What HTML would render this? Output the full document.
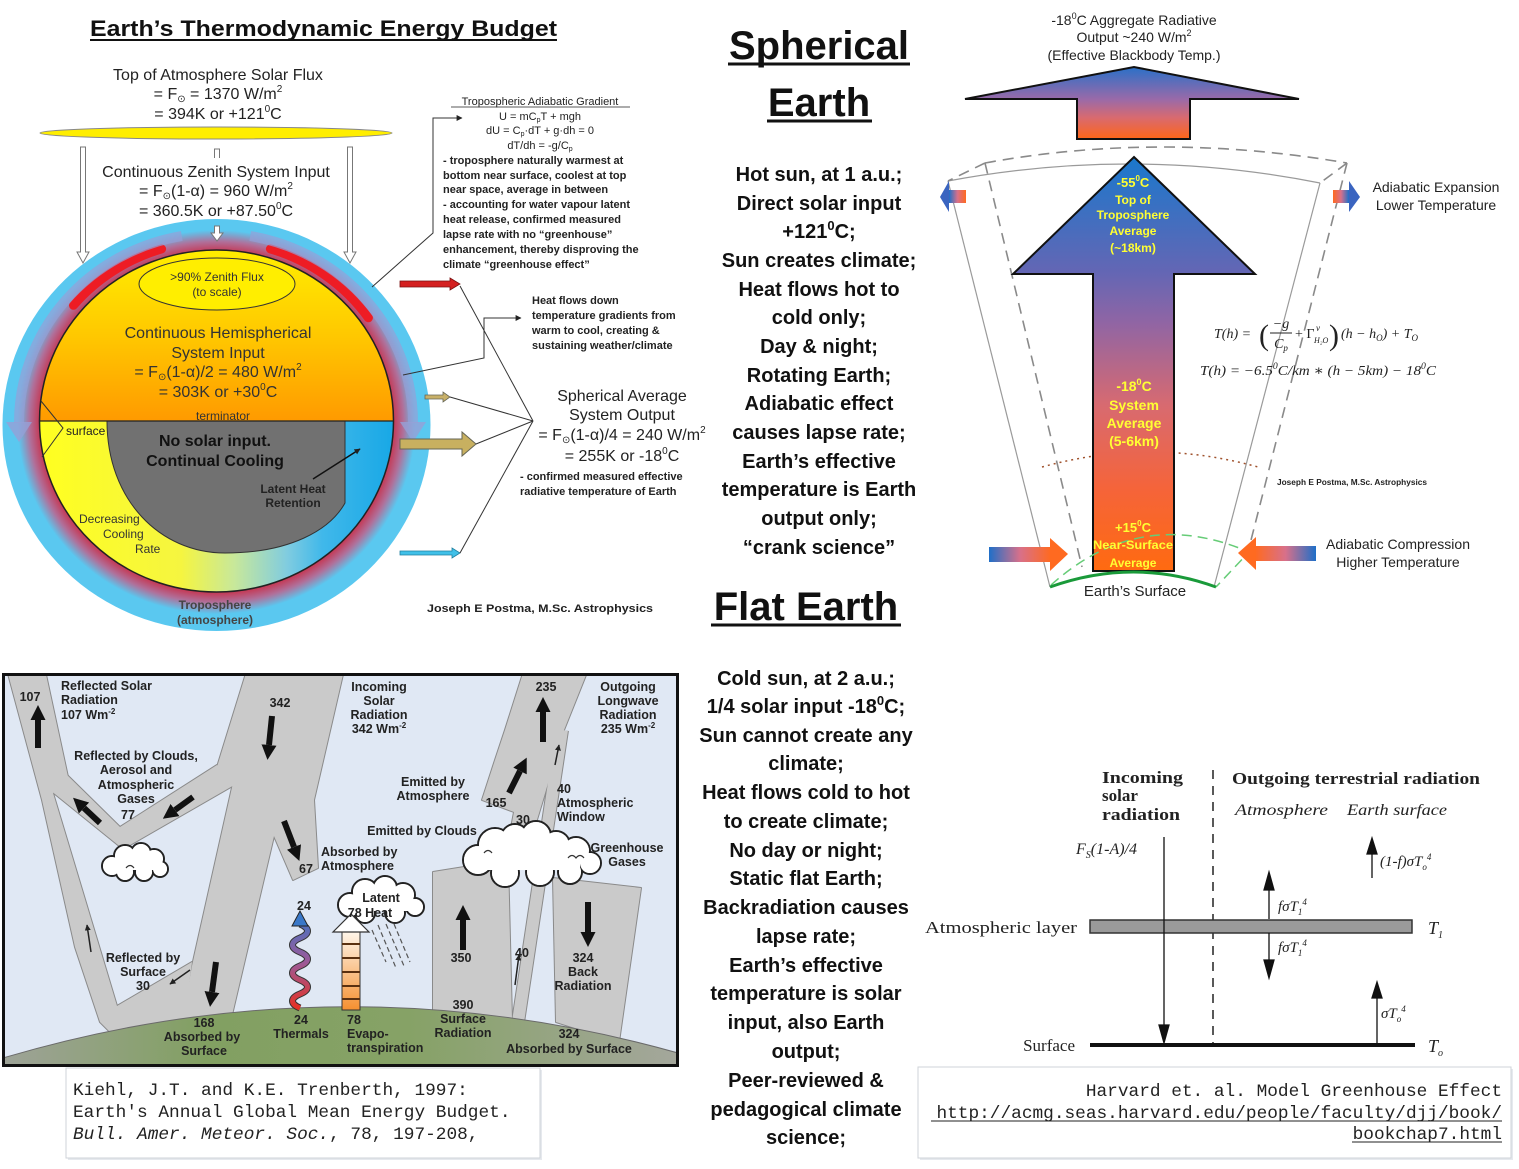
<!DOCTYPE html>
<html><head><meta charset="utf-8">
<style>
html,body{margin:0;padding:0;background:#fff;}
svg{display:block;}
text{font-family:"Liberation Sans",Arial,sans-serif;}
.serif{font-family:"Liberation Serif","DejaVu Serif",serif;}
.mono{font-family:"Liberation Mono","DejaVu Sans Mono",monospace;}
</style></head><body>
<svg width="1519" height="1169" viewBox="0 0 1519 1169" xmlns="http://www.w3.org/2000/svg">
<defs>
  <radialGradient id="ring" cx="0.5" cy="0.5" r="0.5">
    <stop offset="0" stop-color="#c8304a"/>
    <stop offset="0.88" stop-color="#c8304a"/>
    <stop offset="0.94" stop-color="#b0709a"/>
    <stop offset="1" stop-color="#5ac8f0"/>
  </radialGradient>
  <linearGradient id="dayg" x1="0" y1="250" x2="0" y2="421" gradientUnits="userSpaceOnUse">
    <stop offset="0" stop-color="#ffee00"/>
    <stop offset="0.5" stop-color="#ffc800"/>
    <stop offset="1" stop-color="#ff9a00"/>
  </linearGradient>
  <linearGradient id="nightg" x1="40" y1="0" x2="393" y2="0" gradientUnits="userSpaceOnUse">
    <stop offset="0" stop-color="#ffff20"/>
    <stop offset="0.4" stop-color="#f5f540"/>
    <stop offset="0.55" stop-color="#c8e89a"/>
    <stop offset="0.7" stop-color="#80cce0"/>
    <stop offset="0.8" stop-color="#40b8ea"/>
    <stop offset="1" stop-color="#18a8e6"/>
  </linearGradient>
  <linearGradient id="topArrow" x1="0" y1="67" x2="0" y2="139" gradientUnits="userSpaceOnUse">
    <stop offset="0" stop-color="#2a70c8"/>
    <stop offset="0.45" stop-color="#9a6aa8"/>
    <stop offset="0.7" stop-color="#d86a70"/>
    <stop offset="1" stop-color="#ff6618"/>
  </linearGradient>
  <linearGradient id="bigArrow" x1="0" y1="157" x2="0" y2="571" gradientUnits="userSpaceOnUse">
    <stop offset="0" stop-color="#1a78cc"/>
    <stop offset="0.28" stop-color="#6466b4"/>
    <stop offset="0.4" stop-color="#9065a4"/>
    <stop offset="0.6" stop-color="#d86a70"/>
    <stop offset="0.8" stop-color="#f5643a"/>
    <stop offset="1" stop-color="#ff6a10"/>
  </linearGradient>
  <linearGradient id="bo" x1="0" y1="0" x2="1" y2="0">
    <stop offset="0" stop-color="#1f6fc8"/>
    <stop offset="0.5" stop-color="#d8708a"/>
    <stop offset="1" stop-color="#ff6a20"/>
  </linearGradient>
  <linearGradient id="ob" x1="0" y1="0" x2="1" y2="0">
    <stop offset="0" stop-color="#ff6a20"/>
    <stop offset="0.5" stop-color="#d8708a"/>
    <stop offset="1" stop-color="#1f6fc8"/>
  </linearGradient>
  <linearGradient id="ground" x1="0" y1="0" x2="1" y2="0">
    <stop offset="0" stop-color="#9ea398"/>
    <stop offset="0.3" stop-color="#82a062"/>
    <stop offset="0.6" stop-color="#86a266"/>
    <stop offset="1" stop-color="#a4a79c"/>
  </linearGradient>
  <linearGradient id="wave" x1="0" y1="1010" x2="0" y2="912" gradientUnits="userSpaceOnUse">
    <stop offset="0" stop-color="#e83020"/>
    <stop offset="0.5" stop-color="#9a5a9a"/>
    <stop offset="1" stop-color="#3a78c8"/>
  </linearGradient>
  <linearGradient id="evap" x1="0" y1="930" x2="0" y2="1010" gradientUnits="userSpaceOnUse">
    <stop offset="0" stop-color="#fff8ee"/>
    <stop offset="1" stop-color="#f59030"/>
  </linearGradient>
  <marker id="ah" viewBox="0 0 10 10" refX="0" refY="5" markerWidth="2.5" markerHeight="2.6" orient="auto" markerUnits="strokeWidth">
    <path d="M0,0 L10,5 L0,10 z" fill="#111"/>
  </marker>
  <marker id="sm" viewBox="0 0 10 10" refX="9" refY="5" markerWidth="6" markerHeight="6" orient="auto" markerUnits="userSpaceOnUse">
    <path d="M0,0 L10,5 L0,10 z" fill="#222"/>
  </marker>
  <clipPath id="kc"><rect x="5" y="676" width="671" height="388"/></clipPath>
</defs>

<!-- ================= TOP LEFT: Thermodynamic budget ================= -->
<text x="90" y="36" font-size="22" font-weight="bold" fill="#111" textLength="467" lengthAdjust="spacingAndGlyphs">Earth’s Thermodynamic Energy Budget</text>
<line x1="90" y1="40" x2="557" y2="40" stroke="#111" stroke-width="2"/>

<g font-size="16" fill="#222" text-anchor="middle">
  <text x="218" y="80">Top of Atmosphere Solar Flux</text>
  <text x="218" y="99">= F<tspan font-size="10" dy="3">⊙</tspan><tspan dy="-3"> = 1370 W/m</tspan><tspan font-size="10" dy="-7">2</tspan></text>
  <text x="218" y="119">= 394K or +121<tspan font-size="10" dy="-7">0</tspan><tspan dy="7">C</tspan></text>
</g>
<ellipse cx="216" cy="133" rx="176" ry="6" fill="#ffee00" stroke="#888" stroke-width="1"/>

<!-- globe -->
<ellipse cx="216.5" cy="425" rx="214" ry="206" fill="#5ac8f0"/>
<ellipse cx="216.5" cy="422" rx="199" ry="192" fill="url(#ring)"/>
<path d="M161.6,248.9 A186,180 0 0 0 73.5,305.3" fill="none" stroke="#ee1c24" stroke-width="9" stroke-linecap="round"/>
<path d="M270.4,248.9 A186,180 0 0 1 368.4,317.8" fill="none" stroke="#ee1c24" stroke-width="9" stroke-linecap="round"/>
<path d="M181.8,236 A197,190 0 0 0 19,423" fill="none" stroke="rgba(150,160,215,0.7)" stroke-width="10"/>
<path d="M250.2,236 A197,190 0 0 1 413,423" fill="none" stroke="rgba(150,160,215,0.7)" stroke-width="10"/>
<polygon points="6,422 32,422 19,442" fill="rgba(150,160,215,0.8)"/>
<polygon points="400,422 426,422 413,442" fill="rgba(150,160,215,0.8)"/>

<path d="M39.5,421 A177,171 0 0 1 393.5,421 Z" fill="url(#dayg)"/>
<path d="M39.5,421 A177,171 0 0 0 393.5,421 Z" fill="url(#nightg)"/>
<path d="M107,421 C107,500 160,553 225,553 C290,553 330,530 345,503 L345,421 Z" fill="#717171" stroke="#333" stroke-width="1"/>
<ellipse cx="216.5" cy="421" rx="177" ry="171" fill="none" stroke="#222" stroke-width="1.5"/>
<line x1="40" y1="421" x2="393" y2="421" stroke="#222" stroke-width="1.2"/>
<polyline points="41,401 63,428 42,457" fill="none" stroke="#333" stroke-width="1"/>

<!-- hollow arrows (drawn over globe) -->
<path d="M80.5,147 L85.5,147 L85.5,252 L89,252 L83,263 L77,252 L80.5,252 Z" fill="#fff" stroke="#777"/>
<path d="M347.5,147 L352.5,147 L352.5,252 L356,252 L350,263 L344,252 L347.5,252 Z" fill="#fff" stroke="#777"/>
<path d="M214.5,158 L214.5,149 L219.5,149 L219.5,158" fill="none" stroke="#777"/>
<path d="M214.5,226 L219.5,226 L219.5,233 L223,233 L217,241 L211,233 L214.5,233 Z" fill="#fff" stroke="#777"/>

<ellipse cx="217" cy="284" rx="78" ry="26" fill="#ffee00" stroke="#333" stroke-width="1"/>
<g font-size="12" fill="#333" text-anchor="middle">
  <text x="217" y="281">&gt;90% Zenith Flux</text>
  <text x="217" y="296">(to scale)</text>
</g>
<g font-size="16" fill="#222" text-anchor="middle">
  <text x="216" y="177">Continuous Zenith System Input</text>
  <text x="216" y="196">= F<tspan font-size="10" dy="3">⊙</tspan><tspan dy="-3">(1-α) = 960 W/m</tspan><tspan font-size="10" dy="-7">2</tspan></text>
  <text x="216" y="216">= 360.5K or +87.50<tspan font-size="10" dy="-7">0</tspan><tspan dy="7">C</tspan></text>
</g>
<g font-size="16" fill="#333" text-anchor="middle">
  <text x="218" y="338">Continuous Hemispherical</text>
  <text x="218" y="358">System Input</text>
  <text x="218" y="377">= F<tspan font-size="10" dy="3">⊙</tspan><tspan dy="-3">(1-α)/2 = 480 W/m</tspan><tspan font-size="10" dy="-7">2</tspan></text>
  <text x="218" y="397">= 303K or +30<tspan font-size="10" dy="-7">0</tspan><tspan dy="7">C</tspan></text>
</g>
<text x="223" y="420" font-size="12" fill="#333" text-anchor="middle">terminator</text>
<text x="66" y="435" font-size="12" fill="#222">surface</text>
<g font-size="16" font-weight="bold" fill="#111" text-anchor="middle">
  <text x="215" y="446">No solar input.</text>
  <text x="215" y="466">Continual Cooling</text>
</g>
<g font-size="12" font-weight="bold" fill="#222" text-anchor="middle">
  <text x="293" y="493">Latent Heat</text>
  <text x="293" y="507">Retention</text>
</g>
<line x1="313" y1="479" x2="360" y2="449" stroke="#111" stroke-width="1.5" marker-end="url(#sm)"/>
<g font-size="12" fill="#333">
  <text x="79" y="523">Decreasing</text>
  <text x="103" y="538">Cooling</text>
  <text x="135" y="553">Rate</text>
</g>
<g font-size="12" font-weight="bold" fill="#444" text-anchor="middle">
  <text x="215" y="609">Troposphere</text>
  <text x="215" y="624">(atmosphere)</text>
</g>

<!-- side arrows -->
<polygon points="400,281 450,281 450,278 460,284 450,290 450,287 400,287" fill="#d42020" stroke="#7a1010" stroke-width="0.8"/>
<polygon points="425,395 443,395 443,392 450,397 443,402 443,399 425,399" fill="#c8b068" stroke="#665" stroke-width="0.8"/>
<polygon points="400,439 462,439 462,432 476,444 462,456 462,449 400,449" fill="#c8b060" stroke="#665" stroke-width="1"/>
<polygon points="400,551 452,551 452,548 460,553 452,558 452,555 400,555" fill="#40c0e8" stroke="#2080a0" stroke-width="0.8"/>
<g stroke="#333" stroke-width="1" fill="none">
  <line x1="460" y1="286" x2="533" y2="421"/>
  <line x1="450" y1="397" x2="533" y2="421"/>
  <line x1="476" y1="444" x2="533" y2="421"/>
  <line x1="460" y1="553" x2="533" y2="421"/>
  <polyline points="372,287 433,233 433,118 462,118" marker-end="url(#sm)"/>
  <polyline points="403,375 484,358 484,318 521,318" marker-end="url(#sm)"/>
</g>

<text x="540" y="105" font-size="11" fill="#222" text-anchor="middle">Tropospheric Adiabatic Gradient</text>
<line x1="451" y1="107" x2="630" y2="107" stroke="#222" stroke-width="0.8"/>
<g font-size="11" fill="#222" text-anchor="middle">
  <text x="540" y="120">U = mC<tspan font-size="7" dy="2">p</tspan><tspan dy="-2">T + mgh</tspan></text>
  <text x="540" y="134">dU = C<tspan font-size="7" dy="2">p</tspan><tspan dy="-2">·dT + g·dh = 0</tspan></text>
  <text x="540" y="149">dT/dh = -g/C<tspan font-size="7" dy="2">p</tspan></text>
</g>
<g font-size="11" font-weight="bold" fill="#222">
  <text x="443" y="164">- troposphere naturally warmest at</text>
  <text x="443" y="179">bottom near surface, coolest at top</text>
  <text x="443" y="193">near space, average in between</text>
  <text x="443" y="208">- accounting for water vapour latent</text>
  <text x="443" y="223">heat release, confirmed measured</text>
  <text x="443" y="238">lapse rate with no “greenhouse”</text>
  <text x="443" y="253">enhancement, thereby disproving the</text>
  <text x="443" y="268">climate “greenhouse effect”</text>
  <text x="532" y="304">Heat flows down</text>
  <text x="532" y="319">temperature gradients from</text>
  <text x="532" y="334">warm to cool, creating &amp;</text>
  <text x="532" y="349">sustaining weather/climate</text>
  <text x="520" y="480">- confirmed measured effective</text>
  <text x="520" y="495">radiative temperature of Earth</text>
  <text x="427" y="612" textLength="226" lengthAdjust="spacingAndGlyphs">Joseph E Postma, M.Sc. Astrophysics</text>
</g>
<g font-size="16" fill="#222" text-anchor="middle">
  <text x="622" y="401">Spherical Average</text>
  <text x="622" y="420">System Output</text>
  <text x="622" y="440">= F<tspan font-size="10" dy="3">⊙</tspan><tspan dy="-3">(1-α)/4 = 240 W/m</tspan><tspan font-size="10" dy="-7">2</tspan></text>
  <text x="622" y="461">= 255K or -18<tspan font-size="10" dy="-7">0</tspan><tspan dy="7">C</tspan></text>
</g>

<!-- ================= MIDDLE COLUMN ================= -->
<g font-weight="bold" fill="#111" text-anchor="middle">
  <text x="819" y="59" font-size="40">Spherical</text>
  <text x="819" y="116" font-size="40">Earth</text>
  <text x="806" y="620" font-size="40">Flat Earth</text>
</g>
<line x1="728" y1="64" x2="910" y2="64" stroke="#111" stroke-width="3"/>
<line x1="767" y1="121" x2="872" y2="121" stroke="#111" stroke-width="3"/>
<line x1="711" y1="625" x2="901" y2="625" stroke="#111" stroke-width="3"/>

<g font-size="20" font-weight="bold" fill="#111" text-anchor="middle">
  <text x="819" y="181">Hot sun, at 1 a.u.;</text>
  <text x="819" y="210">Direct solar input</text>
  <text x="819" y="238">+121<tspan font-size="13" dy="-8">0</tspan><tspan dy="8">C;</tspan></text>
  <text x="819" y="267">Sun creates climate;</text>
  <text x="819" y="296">Heat flows hot to</text>
  <text x="819" y="324">cold only;</text>
  <text x="819" y="353">Day &amp; night;</text>
  <text x="819" y="382">Rotating Earth;</text>
  <text x="819" y="410">Adiabatic effect</text>
  <text x="819" y="439">causes lapse rate;</text>
  <text x="819" y="468">Earth’s effective</text>
  <text x="819" y="496">temperature is Earth</text>
  <text x="819" y="525">output only;</text>
  <text x="819" y="554">“crank science”</text>

  <text x="806" y="685">Cold sun, at 2 a.u.;</text>
  <text x="806" y="713">1/4 solar input -18<tspan font-size="13" dy="-8">0</tspan><tspan dy="8">C;</tspan></text>
  <text x="806" y="742">Sun cannot create any</text>
  <text x="806" y="770">climate;</text>
  <text x="806" y="799">Heat flows cold to hot</text>
  <text x="806" y="828">to create climate;</text>
  <text x="806" y="857">No day or night;</text>
  <text x="806" y="885">Static flat Earth;</text>
  <text x="806" y="914">Backradiation causes</text>
  <text x="806" y="943">lapse rate;</text>
  <text x="806" y="972">Earth’s effective</text>
  <text x="806" y="1000">temperature is solar</text>
  <text x="806" y="1029">input, also Earth</text>
  <text x="806" y="1058">output;</text>
  <text x="806" y="1087">Peer-reviewed &amp;</text>
  <text x="806" y="1116">pedagogical climate</text>
  <text x="806" y="1144">science;</text>
</g>

<!-- ================= TOP RIGHT: spherical column ================= -->
<g font-size="14" fill="#222" text-anchor="middle">
  <text x="1134" y="25">-18<tspan font-size="9" dy="-6">0</tspan><tspan dy="6">C Aggregate Radiative</tspan></text>
  <text x="1134" y="42">Output ~240 W/m<tspan font-size="9" dy="-6">2</tspan></text>
  <text x="1134" y="60">(Effective Blackbody Temp.)</text>
</g>
<polygon points="965,99 1134,67 1299,99 1190,99 1190,139 1077,139 1077,99" fill="url(#topArrow)" stroke="#111" stroke-width="2" stroke-linejoin="miter"/>

<g fill="none" stroke="#9a9a9a" stroke-width="1.2">
  <path d="M948,181 Q1134,146 1320,183"/>
  <line x1="948" y1="181" x2="1050" y2="587"/>
  <line x1="1320" y1="183" x2="1214" y2="587"/>
</g>
<g fill="none" stroke="#8a8a8a" stroke-width="1.6" stroke-dasharray="11 7">
  <path d="M985,163 Q1160,131 1347,163"/>
  <line x1="985" y1="163" x2="1082" y2="567"/>
  <line x1="1347" y1="163" x2="1249" y2="548"/>
  <line x1="985" y1="163" x2="948" y2="181"/>
  <line x1="1347" y1="163" x2="1320" y2="183"/>
</g>
<path d="M1042,467 Q1150,437 1258,467" fill="none" stroke="#a0522d" stroke-width="1.5" stroke-dasharray="2 4"/>

<polygon points="1134,157 1255,274 1174,274 1174,571 1093,571 1093,274 1013,274" fill="url(#bigArrow)" stroke="#111" stroke-width="2"/>
<path d="M1051,585 Q1140,505 1249,552 L1216,587" fill="none" stroke="#66cc77" stroke-width="1.5" stroke-dasharray="10 6"/>
<path d="M1050,587 Q1134,557 1216,587" fill="none" stroke="#1a9a3a" stroke-width="3"/>

<g font-weight="bold" fill="#ffff33" text-anchor="middle">
  <text x="1133" y="187" font-size="13">-55<tspan font-size="8" dy="-6">0</tspan><tspan dy="6">C</tspan></text>
  <text x="1133" y="204" font-size="12">Top of</text>
  <text x="1133" y="219" font-size="12">Troposphere</text>
  <text x="1133" y="235" font-size="12">Average</text>
  <text x="1133" y="252" font-size="12">(~18km)</text>
  <text x="1134" y="391" font-size="14">-18<tspan font-size="9" dy="-6">0</tspan><tspan dy="6">C</tspan></text>
  <text x="1134" y="410" font-size="14">System</text>
  <text x="1134" y="428" font-size="14">Average</text>
  <text x="1134" y="446" font-size="14">(5-6km)</text>
  <text x="1133" y="532" font-size="13">+15<tspan font-size="8" dy="-6">0</tspan><tspan dy="6">C</tspan></text>
  <text x="1133" y="549" font-size="12" textLength="80" lengthAdjust="spacingAndGlyphs">Near-Surface</text>
  <text x="1133" y="567" font-size="12">Average</text>
</g>

<!-- small side arrows -->
<rect x="949" y="190" width="17" height="13" fill="url(#ob)" transform="rotate(180 957.5 196.5)"/>
<polygon points="949,181 949,212 940,197" fill="#3a64c0"/>
<rect x="1333" y="190" width="16" height="13" fill="url(#ob)"/>
<polygon points="1349,181 1349,212 1360,197" fill="#3a64c0"/>

<!-- big horizontal arrows -->
<rect x="989" y="547" width="62" height="15" fill="url(#bo)"/>
<polygon points="1050,538 1068,554 1050,571" fill="#ff6a20"/>
<rect x="1255" y="546" width="61" height="15" fill="url(#ob)"/>
<polygon points="1256,537 1238,553 1256,570" fill="#ff6a20"/>

<g font-size="14" fill="#222" text-anchor="middle">
  <text x="1436" y="192">Adiabatic Expansion</text>
  <text x="1436" y="210">Lower Temperature</text>
  <text x="1398" y="549">Adiabatic Compression</text>
  <text x="1398" y="567">Higher Temperature</text>
</g>
<text x="1135" y="596" font-size="15" fill="#222" text-anchor="middle">Earth’s Surface</text>

<!-- formulas -->
<g class="serif" font-size="14" fill="#222" font-style="italic">
  <text x="1214" y="338" class="serif">T(h) =</text>
  <text x="1259" y="345" class="serif" font-size="30" font-style="normal">(</text>
  <text x="1281" y="328" class="serif" text-anchor="middle">−g</text>
  <text x="1281" y="348" class="serif" text-anchor="middle">C<tspan font-size="9" dy="3">p</tspan></text>
  <text x="1295" y="338" class="serif" font-style="normal">+ Γ</text>
  <text x="1316" y="331" class="serif" font-size="9">v</text>
  <text x="1314" y="343" class="serif" font-size="8">H₂O</text>
  <text x="1329" y="345" class="serif" font-size="30" font-style="normal">)</text>
  <text x="1341" y="338" class="serif">(h − h<tspan font-size="9" dy="3">O</tspan><tspan dy="-3">) + T</tspan><tspan font-size="9" dy="3">O</tspan></text>
  <text x="1200" y="375" class="serif" textLength="236" lengthAdjust="spacingAndGlyphs">T(h) = −6.5<tspan font-size="9" dy="-6">0</tspan><tspan dy="6">C/km ∗ (h − 5km) − 18</tspan><tspan font-size="9" dy="-6">0</tspan><tspan dy="6">C</tspan></text>
</g>
<line x1="1270" y1="333" x2="1292" y2="333" stroke="#222" stroke-width="1"/>
<text x="1277" y="485" font-size="8" font-weight="bold" fill="#222" textLength="150" lengthAdjust="spacingAndGlyphs">Joseph E Postma, M.Sc. Astrophysics</text>

<!-- ================= BOTTOM LEFT: Kiehl & Trenberth ================= -->
<rect x="3.5" y="674.5" width="674" height="391" fill="#e0e8f4"/>
<g clip-path="url(#kc)">
<!-- band outlines -->
<g fill="#8a8a8a" stroke="#8a8a8a" stroke-width="2" stroke-linejoin="round">
  <polygon points="7,670 45,670 68,777 53,793 117,1006 192,962 184,1022 110,1032 100,1022 75,947 42,800"/>
  <polygon points="62,770 120,827 217,765 236,784 123,849 50,790"/>
  <polygon points="247,670 344,670 314,800 318,868 293,880 274,836 232,1015 182,1020 192,966 233,783 217,767"/>
  <polygon points="524,670 588,670 562,735 546,790 533,833 510,833 514,812 482,800 495,760 505,730"/>
  <polygon points="433,872 508,860 512,1020 433,1020"/>
  <polygon points="553,878 641,888 619,1042 556,1022"/>
</g>
<polyline points="562,730 518,1022" fill="none" stroke="#8a8a8a" stroke-width="14"/>
<!-- band fills -->
<g fill="#cacaca">
  <polygon points="7,670 45,670 68,777 53,793 117,1006 192,962 184,1022 110,1032 100,1022 75,947 42,800"/>
  <polygon points="62,770 120,827 217,765 236,784 123,849 50,790"/>
  <polygon points="247,670 344,670 314,800 318,868 293,880 274,836 232,1015 182,1020 192,966 233,783 217,767"/>
  <polygon points="524,670 588,670 562,735 546,790 533,833 510,833 514,812 482,800 495,760 505,730"/>
  <polygon points="433,872 508,860 512,1020 433,1020"/>
  <polygon points="553,878 641,888 619,1042 556,1022"/>
</g>
<polyline points="562,730 518,1022" fill="none" stroke="#cacaca" stroke-width="12"/>

<!-- clouds -->
<g fill="#fff" stroke="#222" stroke-width="2">
  <circle cx="112" cy="866" r="10"/><circle cx="125" cy="856" r="11"/><circle cx="141" cy="853" r="10"/>
  <circle cx="154" cy="859" r="10"/><circle cx="160" cy="869" r="8"/><circle cx="144" cy="872" r="9"/><circle cx="125" cy="872" r="9"/>
  <circle cx="478" cy="860" r="15"/><circle cx="495" cy="845" r="17"/><circle cx="515" cy="838" r="14"/>
  <circle cx="536" cy="836" r="15"/><circle cx="556" cy="845" r="14"/><circle cx="576" cy="851" r="14"/>
  <circle cx="590" cy="863" r="11"/><circle cx="570" cy="872" r="12"/><circle cx="540" cy="872" r="14"/><circle cx="505" cy="873" r="14"/>
  <circle cx="350" cy="905" r="12"/><circle cx="365" cy="892" r="13"/><circle cx="385" cy="888" r="12"/>
  <circle cx="403" cy="895" r="12"/><circle cx="415" cy="907" r="9"/><circle cx="395" cy="913" r="10"/><circle cx="365" cy="913" r="10"/>
</g>
<g fill="#fff">
  <circle cx="112" cy="866" r="9"/><circle cx="125" cy="856" r="10"/><circle cx="141" cy="853" r="9"/>
  <circle cx="154" cy="859" r="9"/><circle cx="160" cy="869" r="7"/><circle cx="144" cy="872" r="8"/><circle cx="125" cy="872" r="8"/>
  <circle cx="478" cy="860" r="14"/><circle cx="495" cy="845" r="16"/><circle cx="515" cy="838" r="13"/>
  <circle cx="536" cy="836" r="14"/><circle cx="556" cy="845" r="13"/><circle cx="576" cy="851" r="13"/>
  <circle cx="590" cy="863" r="10"/><circle cx="570" cy="872" r="11"/><circle cx="540" cy="872" r="13"/><circle cx="505" cy="873" r="13"/>
  <circle cx="350" cy="905" r="11"/><circle cx="365" cy="892" r="12"/><circle cx="385" cy="888" r="11"/>
  <circle cx="403" cy="895" r="11"/><circle cx="415" cy="907" r="8"/><circle cx="395" cy="913" r="9"/><circle cx="365" cy="913" r="9"/>
  <rect x="120" y="856" width="36" height="14"/><rect x="485" y="845" width="95" height="25"/><rect x="355" y="893" width="55" height="18"/>
</g>
<g fill="none" stroke="#333" stroke-width="1.2">
  <path d="M126,868 q4,-5 8,0"/><path d="M484,853 q4,-5 8,0"/><path d="M568,858 q4,-5 8,0 q4,-5 8,0"/>
</g>

<!-- ground -->
<path d="M3,1066 L3,1058 Q340,958 678,1053 L678,1066 Z" fill="url(#ground)" stroke="#6a6a6a" stroke-width="1"/>

<!-- thermals wave -->
<path d="M300,1008 c-10,-4 -10,-10 0,-14 c10,-4 10,-10 0,-14 c-10,-4 -10,-10 0,-14 c10,-4 10,-10 0,-14 c-10,-4 -10,-10 0,-14 c10,-4 10,-10 0,-14" fill="none" stroke="#333" stroke-width="7"/>
<path d="M300,1008 c-10,-4 -10,-10 0,-14 c10,-4 10,-10 0,-14 c-10,-4 -10,-10 0,-14 c10,-4 10,-10 0,-14 c-10,-4 -10,-10 0,-14 c10,-4 10,-10 0,-14" fill="none" stroke="url(#wave)" stroke-width="5"/>
<polygon points="292,926 308,926 300,911" fill="#3a78c8" stroke="#222" stroke-width="1"/>

<!-- evapotranspiration column -->
<rect x="342" y="930" width="18" height="80" fill="url(#evap)" stroke="#333" stroke-width="1"/>
<g stroke="#5a3010" stroke-width="2">
  <line x1="342" y1="944" x2="360" y2="944"/><line x1="342" y1="958" x2="360" y2="958"/>
  <line x1="342" y1="972" x2="360" y2="972"/><line x1="342" y1="986" x2="360" y2="986"/><line x1="342" y1="999" x2="360" y2="999"/>
</g>
<polygon points="333,932 369,932 351,914" fill="#fff" stroke="#333" stroke-width="1.2"/>
<g stroke="#555" stroke-width="1.2" stroke-dasharray="5 3">
  <line x1="378" y1="925" x2="396" y2="968"/><line x1="386" y1="924" x2="404" y2="966"/>
  <line x1="394" y1="924" x2="410" y2="962"/><line x1="372" y1="930" x2="386" y2="962"/>
</g>

<!-- black arrows -->
<g stroke="#111" stroke-width="6" marker-end="url(#ah)">
  <line x1="38" y1="748" x2="38" y2="720"/>
  <line x1="272" y1="716" x2="269" y2="745"/>
  <line x1="100" y1="823" x2="84" y2="808"/>
  <line x1="193" y1="797" x2="175" y2="810"/>
  <line x1="284" y1="821" x2="294" y2="847"/>
  <line x1="216" y1="962" x2="212" y2="992"/>
  <line x1="543" y1="742" x2="543" y2="712"/>
  <line x1="509" y1="793" x2="520" y2="771"/>
  <line x1="463" y1="950" x2="463" y2="920"/>
  <line x1="588" y1="902" x2="588" y2="932"/>
</g>
<g stroke="#222" stroke-width="1.5" fill="none">
  <line x1="91" y1="952" x2="87" y2="925" marker-end="url(#sm)"/>
  <line x1="190" y1="970" x2="170" y2="984" marker-end="url(#sm)"/>
  <line x1="515" y1="985" x2="519" y2="955" marker-end="url(#sm)"/>
  <line x1="555" y1="765" x2="559" y2="745" marker-end="url(#sm)"/>
</g>
</g>

<g font-size="12.5" font-weight="bold" fill="#222">
  <text x="30" y="701" text-anchor="middle">107</text>
  <text x="61" y="690">Reflected Solar</text>
  <text x="61" y="704">Radiation</text>
  <text x="61" y="719">107 Wm<tspan font-size="8" dy="-5">-2</tspan></text>
  <text x="280" y="707" text-anchor="middle">342</text>
  <text x="379" y="691" text-anchor="middle">Incoming</text>
  <text x="379" y="705" text-anchor="middle">Solar</text>
  <text x="379" y="719" text-anchor="middle">Radiation</text>
  <text x="379" y="733" text-anchor="middle">342 Wm<tspan font-size="8" dy="-5">-2</tspan></text>
  <text x="546" y="691" text-anchor="middle">235</text>
  <text x="628" y="691" text-anchor="middle">Outgoing</text>
  <text x="628" y="705" text-anchor="middle">Longwave</text>
  <text x="628" y="719" text-anchor="middle">Radiation</text>
  <text x="628" y="733" text-anchor="middle">235 Wm<tspan font-size="8" dy="-5">-2</tspan></text>
  <text x="136" y="760" text-anchor="middle">Reflected by Clouds,</text>
  <text x="136" y="774" text-anchor="middle">Aerosol and</text>
  <text x="136" y="789" text-anchor="middle">Atmospheric</text>
  <text x="136" y="803" text-anchor="middle">Gases</text>
  <text x="128" y="819" text-anchor="middle">77</text>
  <text x="433" y="786" text-anchor="middle">Emitted by</text>
  <text x="433" y="800" text-anchor="middle">Atmosphere</text>
  <text x="496" y="807" text-anchor="middle">165</text>
  <text x="523" y="824" text-anchor="middle">30</text>
  <text x="557" y="793">40</text>
  <text x="557" y="807">Atmospheric</text>
  <text x="557" y="821">Window</text>
  <text x="422" y="835" text-anchor="middle">Emitted by Clouds</text>
  <text x="321" y="856">Absorbed by</text>
  <text x="321" y="870">Atmosphere</text>
  <text x="306" y="873" text-anchor="middle">67</text>
  <text x="627" y="852" text-anchor="middle">Greenhouse</text>
  <text x="627" y="866" text-anchor="middle">Gases</text>
  <text x="304" y="910" text-anchor="middle">24</text>
  <text x="381" y="902" text-anchor="middle">Latent</text>
  <text x="370" y="917" text-anchor="middle">78 Heat</text>
  <text x="461" y="962" text-anchor="middle">350</text>
  <text x="522" y="957" text-anchor="middle">40</text>
  <text x="583" y="962" text-anchor="middle">324</text>
  <text x="583" y="976" text-anchor="middle">Back</text>
  <text x="583" y="990" text-anchor="middle">Radiation</text>
  <text x="143" y="962" text-anchor="middle">Reflected by</text>
  <text x="143" y="976" text-anchor="middle">Surface</text>
  <text x="143" y="990" text-anchor="middle">30</text>
  <text x="463" y="1009" text-anchor="middle">390</text>
  <text x="463" y="1023" text-anchor="middle">Surface</text>
  <text x="463" y="1037" text-anchor="middle">Radiation</text>
  <text x="204" y="1027" text-anchor="middle">168</text>
  <text x="202" y="1041" text-anchor="middle">Absorbed by</text>
  <text x="204" y="1055" text-anchor="middle">Surface</text>
  <text x="301" y="1024" text-anchor="middle">24</text>
  <text x="301" y="1038" text-anchor="middle">Thermals</text>
  <text x="347" y="1024">78</text>
  <text x="347" y="1038">Evapo-</text>
  <text x="347" y="1052">transpiration</text>
  <text x="569" y="1038" text-anchor="middle">324</text>
  <text x="569" y="1053" text-anchor="middle">Absorbed by Surface</text>
</g>
<rect x="3.5" y="674.5" width="674" height="391" fill="none" stroke="#111" stroke-width="3"/>

<!-- Kiehl caption -->
<rect x="68" y="1070" width="474" height="90" fill="#e6e9ee"/>
<rect x="66" y="1068" width="474" height="90" fill="#fff" stroke="#cfd3d8" stroke-width="1"/>
<g class="mono" font-size="17.8" fill="#222">
  <text x="73" y="1095" class="mono">Kiehl, J.T. and K.E. Trenberth, 1997:</text>
  <text x="73" y="1117" class="mono">Earth's Annual Global Mean Energy Budget.</text>
  <text x="73" y="1139" class="mono"><tspan font-style="italic">Bull. Amer. Meteor. Soc.</tspan>, 78, 197-208,</text>
</g>

<!-- ================= BOTTOM RIGHT: Harvard model ================= -->
<g class="serif" fill="#222">
  <text x="1102" y="783" class="serif" font-size="17" font-weight="bold" textLength="81" lengthAdjust="spacingAndGlyphs">Incoming</text>
  <text x="1102" y="801" class="serif" font-size="17" font-weight="bold">solar</text>
  <text x="1102" y="820" class="serif" font-size="17" font-weight="bold" textLength="78" lengthAdjust="spacingAndGlyphs">radiation</text>
  <text x="1232" y="784" class="serif" font-size="17" font-weight="bold" textLength="248" lengthAdjust="spacingAndGlyphs">Outgoing terrestrial radiation</text>
  <text x="1235" y="815" class="serif" font-size="16" font-style="italic" textLength="93" lengthAdjust="spacingAndGlyphs">Atmosphere</text>
  <text x="1347" y="815" class="serif" font-size="16" font-style="italic" textLength="100" lengthAdjust="spacingAndGlyphs">Earth surface</text>
  <text x="1076" y="854" class="serif" font-size="16" font-style="italic">F<tspan font-size="10" dy="4">S</tspan><tspan dy="-4">(1-A)/4</tspan></text>
  <text x="1077" y="933" class="serif" font-size="17" text-anchor="end" textLength="152" lengthAdjust="spacingAndGlyphs">Atmospheric layer</text>
  <text x="1075" y="1051" class="serif" font-size="17" text-anchor="end">Surface</text>
  <text x="1428" y="934" class="serif" font-size="18" font-style="italic">T<tspan font-size="10" dy="4">1</tspan></text>
  <text x="1428" y="1052" class="serif" font-size="18" font-style="italic">T<tspan font-size="10" dy="4">o</tspan></text>
  <text x="1278" y="911" class="serif" font-size="15" font-style="italic">fσT<tspan font-size="9" dy="4">1</tspan><tspan font-size="9" dy="-10">4</tspan></text>
  <text x="1278" y="952" class="serif" font-size="15" font-style="italic">fσT<tspan font-size="9" dy="4">1</tspan><tspan font-size="9" dy="-10">4</tspan></text>
  <text x="1380" y="866" class="serif" font-size="15" font-style="italic">(1-f)σT<tspan font-size="9" dy="4">o</tspan><tspan font-size="9" dy="-10">4</tspan></text>
  <text x="1381" y="1018" class="serif" font-size="15" font-style="italic">σT<tspan font-size="9" dy="4">o</tspan><tspan font-size="9" dy="-10">4</tspan></text>
</g>
<line x1="1213" y1="770" x2="1213" y2="1047" stroke="#222" stroke-width="1.5" stroke-dasharray="9 7"/>
<rect x="1090" y="920" width="322" height="13" fill="#9a9a9a" stroke="#333" stroke-width="1.5"/>
<line x1="1090" y1="1045" x2="1415" y2="1045" stroke="#111" stroke-width="4"/>
<g stroke="#111" stroke-width="1.3" fill="#111">
  <line x1="1164" y1="837" x2="1164" y2="1027"/>
  <polygon points="1159,1025 1169,1025 1164,1043"/>
  <line x1="1269" y1="919" x2="1269" y2="888"/>
  <polygon points="1264,890 1274,890 1269,872"/>
  <line x1="1269" y1="933" x2="1269" y2="960"/>
  <polygon points="1264,960 1274,960 1269,978"/>
  <line x1="1372" y1="878" x2="1372" y2="852"/>
  <polygon points="1367,854 1377,854 1372,838"/>
  <line x1="1377" y1="1045" x2="1377" y2="996"/>
  <polygon points="1372,998 1382,998 1377,982"/>
</g>

<!-- Harvard caption -->
<rect x="920" y="1069" width="593" height="91" fill="#e6e9ee"/>
<rect x="918" y="1067" width="593" height="91" fill="#fff" stroke="#cfd3d8" stroke-width="1"/>
<g class="mono" font-size="17.8" fill="#222" text-anchor="end">
  <text x="1502" y="1096" class="mono">Harvard et. al. Model Greenhouse Effect</text>
  <text x="1502" y="1118" class="mono">http://acmg.seas.harvard.edu/people/faculty/djj/book/</text>
  <text x="1502" y="1139" class="mono">bookchap7.html</text>
</g>
<line x1="931" y1="1121" x2="1502" y2="1121" stroke="#222" stroke-width="1"/>
<line x1="1352" y1="1142" x2="1502" y2="1142" stroke="#222" stroke-width="1"/>
</svg>
</body></html>
